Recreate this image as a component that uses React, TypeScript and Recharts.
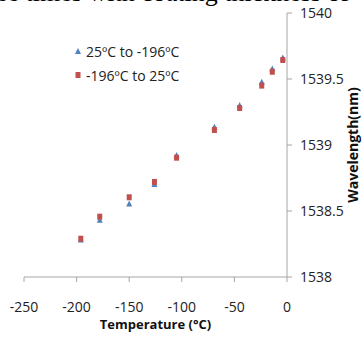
import { Label, Legend, Scatter, ScatterChart, XAxis, YAxis } from 'recharts';

const temperatures = [-196, -178, -150, -126, -105, -69, -45, -24, -14, -4];
const coolingWavelength = [1538.28, 1538.43, 1538.553, 1538.7, 1538.92, 1539.134, 1539.3, 1539.475, 1539.576, 1539.66];
const heatingWavelength = [1538.29, 1538.457, 1538.604, 1538.72, 1538.904, 1539.114, 1539.28, 1539.45, 1539.555, 1539.644];
const seriesNames = ['25ºC to -196ºC', '-196ºC to 25ºC'];
const xTicks = [-250, -200, -150, -100, -50, 0];
const yTicks = [1538, 1538.5, 1539, 1539.5, 1540];

const coolingData = temperatures.map((t, i) => ({ t, w: coolingWavelength[i] }));
const heatingData = temperatures.map((t, i) => ({ t, w: heatingWavelength[i] }));

const font = "'Open Sans', 'DejaVu Sans Condensed', sans-serif";
const blue = '#4f81bd';
const red = '#c0504d';
const axisGray = '#a6a6a6';

function Triangle(props: any) {
  const { cx, cy } = props;
  return <polygon points={`${cx},${cy - 3.5} ${cx + 3},${cy + 2.5} ${cx - 3},${cy + 2.5}`} fill={blue} />;
}

function Square(props: any) {
  const { cx, cy } = props;
  return <rect x={cx - 2.5} y={cy - 3} width={5} height={6} fill={red} />;
}

function LegendBox({ payload }: any) {
  // keep the series order, not the alphabetical one
  const items = [...(payload || [])].sort(
    (a: any, b: any) => seriesNames.indexOf(a.value) - seriesNames.indexOf(b.value)
  );
  return (
    <div style={{ fontFamily: font, fontSize: 14, color: '#222' }}>
      {items.map((entry: any) => (
        <div key={entry.value} style={{ display: 'flex', alignItems: 'center', height: 24 }}>
          <svg width={10} height={10} style={{ marginRight: 3 }}>
            {entry.value === seriesNames[0] ? (
              <polygon points="5,2 8,8 2,8" fill={blue} />
            ) : (
              <rect x={2.5} y={2} width={5} height={6} fill={red} />
            )}
          </svg>
          <span>{entry.value}</span>
        </div>
      ))}
    </div>
  );
}

export default function App() {
  return (
    <div style={{ position: 'absolute', left: 0, top: 0, width: 363, height: 337, overflow: 'hidden', background: '#fff' }}>
      <div
        style={{
          position: 'absolute',
          top: -20,
          left: -4,
          whiteSpace: 'nowrap',
          fontFamily: "'Liberation Serif', serif",
          fontSize: 26,
          lineHeight: '26px',
          color: '#000',
        }}
      >
        ee times with coating thickness of 4
      </div>
      <ScatterChart width={363} height={337} margin={{ top: 13, right: 16, bottom: 30, left: 24 }}>
        <XAxis
          type="number"
          dataKey="t"
          domain={[-250, 0]}
          ticks={xTicks}
          height={30}
          tickSize={5}
          tickMargin={20}
          stroke={axisGray}
          tick={{ fill: '#222', fontSize: 14, fontFamily: font }}
        >
          <Label
            value="Temperature (°C)"
            position="bottom"
            offset={13}
            style={{ fill: '#111', fontSize: 13, fontWeight: 'bold', fontFamily: font }}
          />
        </XAxis>
        <YAxis
          type="number"
          dataKey="w"
          orientation="right"
          domain={[1538, 1540]}
          ticks={yTicks}
          width={60}
          tickSize={5}
          tickMargin={8}
          stroke={axisGray}
          tick={{ fill: '#222', fontSize: 14, fontFamily: font }}
        >
          <Label
            content={(props: any) => {
              const vb = props.viewBox || {};
              const cx = 358;
              const cy = (vb.y || 13) + (vb.height || 264) / 2;
              return (
                <text
                  x={cx}
                  y={cy}
                  transform={`rotate(-90, ${cx}, ${cy})`}
                  textAnchor="middle"
                  style={{ fill: '#111', fontSize: 14, fontWeight: 'bold', fontFamily: font }}
                >
                  Wavelength(nm)
                </text>
              );
            }}
          />
        </YAxis>
        <Legend
          layout="vertical"
          align="center"
          verticalAlign="middle"
          wrapperStyle={{ left: 73, top: 39, width: 'auto' }}
          content={LegendBox}
        />
        <Scatter name={seriesNames[0]} data={coolingData} fill={blue} shape={Triangle} isAnimationActive={false} />
        <Scatter name={seriesNames[1]} data={heatingData} fill={red} shape={Square} isAnimationActive={false} />
      </ScatterChart>
    </div>
  );
}
